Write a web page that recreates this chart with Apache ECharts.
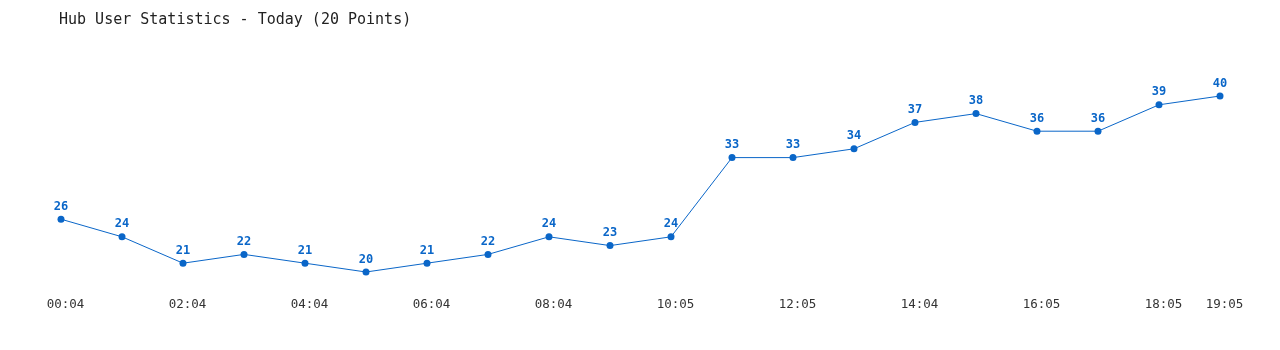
<!DOCTYPE html>
<html>
<head>
<meta charset="utf-8">
<script src="https://cdn.jsdelivr.net/npm/echarts@6/dist/echarts.min.js"></script>
<style>html,body{margin:0;padding:0;background:#fff}#c{width:1280px;height:350px}</style>
</head>
<body>
<div id="c"></div>
<script>
const categories = ['00:04','01:04','02:04','03:04','04:04','05:04','06:04','07:04','08:04','09:04','10:05','11:05','12:05','13:05','14:04','15:05','16:05','17:05','18:05','19:05'];
const users = [26,24,21,22,21,20,21,22,24,23,24,33,33,34,37,38,36,36,39,40];
const titleText = 'Hub User Statistics - Today (20 Points)';

const chart = echarts.init(document.getElementById('c'));
chart.setOption({
  animation: false,
  backgroundColor: '#fff',
  title: {
    text: titleText,
    left: 54, top: 8,
    textStyle: { fontFamily: '"DejaVu Sans Mono", monospace', fontSize: 15, fontWeight: 'normal', color: '#222' }
  },
  grid: { left: 61, right: 60, top: 96, bottom: 78 },
  xAxis: {
    type: 'category',
    data: categories,
    boundaryGap: false,
    axisLine: { show: false },
    axisTick: { show: false },
    splitLine: { show: false },
    axisLabel: {
      margin: 26,
      color: '#333',
      fontFamily: '"DejaVu Sans Mono", monospace',
      fontSize: 12.5,
      padding: [0, 0, 0, 9],
      interval: function (i) { return i % 2 === 0 || i === categories.length - 1; }
    }
  },
  yAxis: {
    type: 'value', min: 20, max: 40,
    show: false,
    splitLine: { show: false }
  },
  series: [{
    type: 'line',
    data: users,
    symbol: 'circle',
    symbolSize: 7,
    lineStyle: { color: '#0a66c8', width: 1 },
    itemStyle: { color: '#0a66c8' },
    label: {
      show: true, position: 'top', distance: 3,
      color: '#0a66c8',
      fontFamily: '"DejaVu Sans Mono", monospace',
      fontSize: 12, fontWeight: 'bold'
    }
  }]
});
</script>
</body>
</html>
